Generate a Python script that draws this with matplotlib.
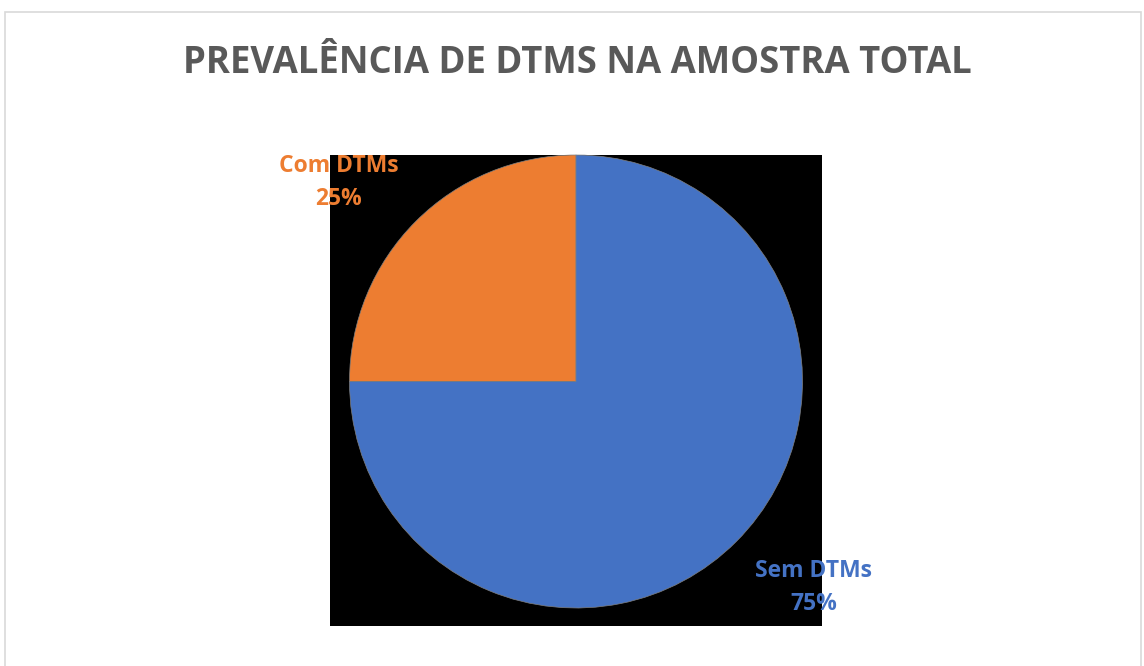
import numpy as np
import matplotlib.pyplot as plt
from matplotlib.patches import Rectangle

categorias = ['Com DTMs', 'Sem DTMs']
valores = [25, 75]
cores = ['#ED7D31', '#4472C4']
titulo = 'PREVALÊNCIA DE DTMS NA AMOSTRA TOTAL'

plt.rcParams['font.family'] = ['Open Sans', 'DejaVu Sans']

fig = plt.figure(figsize=(11.44, 6.66), dpi=100)
W, H = 1144, 666

# moldura cinza do gráfico
fig.patches.append(Rectangle((5 / W, -0.02), 1136 / W, (H - 12) / H + 0.02,
                             transform=fig.transFigure, facecolor='white',
                             edgecolor='#D9D9D9', linewidth=1.2, zorder=0))
# area de plotagem preta
fig.patches.append(Rectangle((330 / W, (H - 626) / H), 492 / W, 471 / H,
                             transform=fig.transFigure, facecolor='black',
                             edgecolor='none', zorder=1))

ax = fig.add_axes([349 / W, (H - 608) / H, 454 / W, 453 / H])
ax.set_zorder(3)
ax.set_facecolor('none')
wedges, _ = ax.pie(valores, colors=cores, startangle=90, counterclock=True,
                   radius=1, wedgeprops=dict(edgecolor='#7F7F7F', linewidth=0.5))
ax.set_xlim(-1, 1)
ax.set_ylim(-1, 1)
ax.axis('off')

total = sum(valores)
for w, nome, v, c in zip(wedges, categorias, valores, cores):
    ang = np.deg2rad((w.theta1 + w.theta2) / 2 + 4.5)
    x, y = 1.38 * np.cos(ang), 1.38 * np.sin(ang)
    ax.annotate(f'{nome}\n{v / total * 100:.0f}%', xy=(x, y), xytext=(0, -3.5),
                textcoords='offset pixels', color=c, fontsize=16.5,
                fontweight='bold', ha='center', va='center', linespacing=1.5,
                annotation_clip=False)

fig.text(577 / W, (H - 63) / H, titulo, color='#595959', fontsize=26.3,
         fontweight='bold', ha='center', va='center')

plt.savefig('out.png', dpi=100)
